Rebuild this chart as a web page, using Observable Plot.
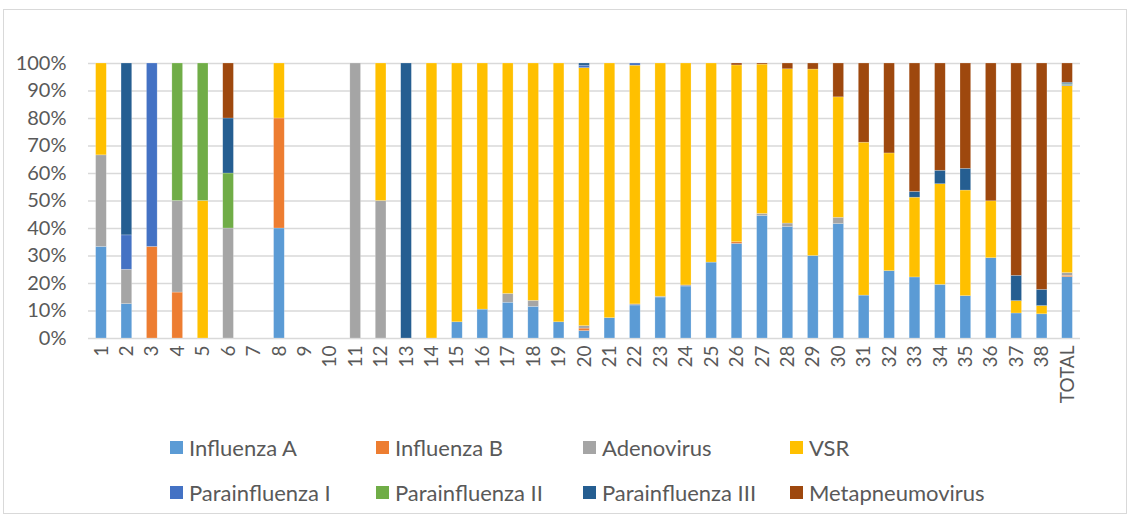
<!DOCTYPE html>
<html>
<head>
<meta charset="utf-8">
<script src="https://cdn.jsdelivr.net/npm/d3@7"></script>
<script src="https://cdn.jsdelivr.net/npm/@observablehq/plot@0.6"></script>
<style>
  html, body { margin: 0; padding: 0; background: #fff; }
  body { width: 1130px; height: 518px; position: relative; overflow: hidden; font-family: Lato, "Noto Sans", sans-serif; }
  #frame { position: absolute; left: 3px; top: 9px; width: 1124px; height: 505px; border: 1px solid #d9d9d9; box-sizing: border-box; }
  #chart { position: absolute; left: 0; top: 0; }
  #legend { position: absolute; left: 0; top: 0; width: 1130px; height: 518px; pointer-events: none; }
  .item { position: absolute; display: flex; align-items: center; color: #595959; font-size: 22px; white-space: nowrap; }
  .sw { width: 13px; height: 13px; margin-right: 6px; flex: none; }
</style>
</head>
<body>
<div id="frame"></div>
<div id="chart"></div>
<div id="legend"></div>
<script>
const categories = ["1","2","3","4","5","6","7","8","9","10","11","12","13","14","15","16","17","18","19","20","21","22","23","24","25","26","27","28","29","30","31","32","33","34","35","36","37","38","TOTAL"];

const seriesNames = ["Influenza A","Influenza B","Adenovirus","VSR","Parainfluenza I","Parainfluenza II","Parainfluenza III","Metapneumovirus"];
const seriesColors = ["#5B9BD5","#ED7D31","#A5A5A5","#FFC000","#4472C4","#70AD47","#255E91","#9E480E"];

const influenzaA = [33.3,12.5,0,0,0,0,0,40,0,0, 0,0,0,0,5.9,10.5,13,11.5,5.9,2.7, 7.4,12,14.9,18.9,27.6,34.4,44.5,40.5,30,41.6, 15.6,24.5,22.2,19.5,15.4,29.2,9.1,8.8,22.3];
const influenzaB = [0,0,33.3,16.7,0,0,0,40,0,0, 0,0,0,0,0,0,0,0,0,0.9, 0,0,0,0,0,0.6,0,0,0,0, 0,0,0,0,0,0,0,0,0.5];
const adenovirus = [33.3,12.5,0,33.3,0,40,0,0,0,0, 100,50,0,0,0,0,3.2,2.2,0,0.9, 0,0.4,0.3,0.4,0,0,0.8,1.3,0,2.3, 0,0,0,0,0,0,0,0,1.0];
const vsr = [33.4,0,0,0,50,0,0,20,0,0, 0,50,0,100,94.1,89.5,83.8,86.3,94.1,93.8, 92.6,86.8,84.8,80.7,72.4,64.3,54.3,56.1,67.8,43.8, 55.6,42.8,29.0,36.6,38.4,20.7,4.5,3.0,68.0];
const parainfluenzaI = [0,12.5,66.7,0,0,0,0,0,0,0, 0,0,0,0,0,0,0,0,0,0.9, 0,0.8,0,0,0,0,0,0,0,0, 0,0,0,0,0,0,0,0,0.4];
const parainfluenzaII = [0,0,0,50,50,20,0,0,0,0, 0,0,0,0,0,0,0,0,0,0, 0,0,0,0,0,0,0,0,0,0, 0,0,0,0,0,0,0,0,0.3];
const parainfluenzaIII = [0,62.5,0,0,0,20,0,0,0,0, 0,0,100,0,0,0,0,0,0,0.8, 0,0,0,0,0,0,0,0,0,0, 0,0,2.1,4.9,7.9,0,9.2,5.9,0.5];
const metapneumovirus = [0,0,0,0,0,20,0,0,0,0, 0,0,0,0,0,0,0,0,0,0, 0,0,0,0,0,0.7,0.4,2.1,2.2,12.3, 28.8,32.7,46.7,39,38.3,50.1,77.2,82.3,7.0];

const yTicks = [0,10,20,30,40,50,60,70,80,90,100];

const seriesValues = [influenzaA, influenzaB, adenovirus, vsr, parainfluenzaI, parainfluenzaII, parainfluenzaIII, metapneumovirus];
const data = [];
seriesNames.forEach((s, si) => {
  categories.forEach((c, ci) => {
    data.push({category: c, series: s, value: seriesValues[si][ci]});
  });
});

const chart = Plot.plot({
  width: 1130,
  height: 420,
  marginLeft: 88,
  marginRight: 50,
  marginTop: 63,
  marginBottom: 82,
  style: {fontFamily: "Lato, 'Noto Sans', sans-serif", background: "transparent"},
  x: {domain: categories, paddingInner: 0.58, paddingOuter: 0.3, round: false, label: null},
  y: {domain: [0, 100], label: null},
  color: {domain: seriesNames, range: seriesColors},
  marks: [
    Plot.ruleY(yTicks, {stroke: "#d9d9d9", strokeWidth: 1.5}),
    Plot.barY(data, Plot.stackY({
      x: "category", y: "value", fill: "series", order: seriesNames,
      stroke: "white", strokeOpacity: 0.35, strokeWidth: 0.6
    })),
    Plot.axisY({ticks: yTicks, tickSize: 0, tickPadding: 22, tickFormat: d => d + "%", fontSize: 20, fill: "#595959", label: null}),
    Plot.axisX({tickSize: 0, tickPadding: 7, tickRotate: -90, fontSize: 19, fill: "#595959", label: null})
  ]
});
document.getElementById("chart").appendChild(chart);

const legend = document.getElementById("legend");
const colX = [170, 376, 583, 790];
const rowY = [447, 492];
seriesNames.forEach((s, i) => {
  const item = document.createElement("div");
  item.className = "item";
  item.style.left = colX[i % 4] + "px";
  item.style.top = (rowY[Math.floor(i / 4)] - 14) + "px";
  item.style.height = "28px";
  const sw = document.createElement("span");
  sw.className = "sw";
  sw.style.background = seriesColors[i];
  const tx = document.createElement("span");
  tx.textContent = s;
  item.appendChild(sw);
  item.appendChild(tx);
  legend.appendChild(item);
});
</script>
</body>
</html>
